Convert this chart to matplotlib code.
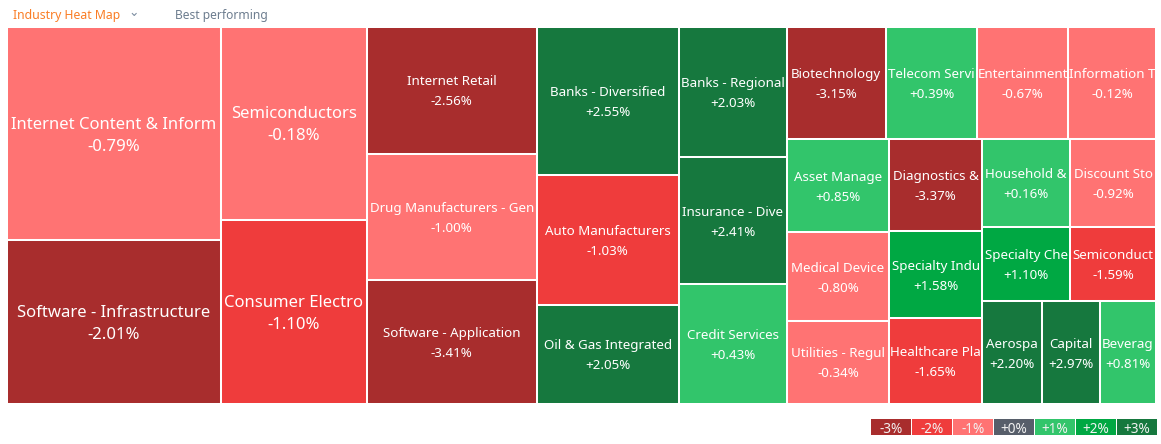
import matplotlib
matplotlib.use("Agg")
import matplotlib.pyplot as plt
from matplotlib.patches import Rectangle

plt.rcParams['font.family'] = ['Noto Sans', 'DejaVu Sans']

# ---- data ----
names = [
    "Internet Content & Inform", "Software - Infrastructure", "Semiconductors",
    "Consumer Electro", "Internet Retail", "Drug Manufacturers - Gen",
    "Software - Application", "Banks - Diversified", "Auto Manufacturers",
    "Oil & Gas Integrated", "Banks - Regional", "Insurance - Dive",
    "Credit Services", "Biotechnology", "Telecom Servi", "Entertainment",
    "Information T", "Asset Manage", "Medical Device", "Utilities - Regul",
    "Diagnostics &", "Specialty Indu", "Healthcare Pla", "Household &",
    "Discount Sto", "Specialty Che", "Semiconduct", "Aerospa", "Capital",
    "Beverag",
]
sizes = [
    45400, 34900, 28000, 26700, 21450, 21400, 20950, 20900, 18300, 14050,
    13950, 13700, 12850, 11050, 10150, 10140, 9800, 9550, 9030, 8520,
    8500, 8090, 7900, 7700, 7520, 6510, 6360, 6120, 5920, 5710,
]
changes = [
    -0.79, -2.01, -0.18, -1.10, -2.56, -1.00, -3.41, 2.55, -1.03, 2.05,
    2.03, 2.41, 0.43, -3.15, 0.39, -0.67, -0.12, 0.85, -0.80, -0.34,
    -3.37, 1.58, -1.65, 0.16, -0.92, 1.10, -1.59, 2.20, 2.97, 0.81,
]
legend_labels = ["-3%", "-2%", "-1%", "+0%", "+1%", "+2%", "+3%"]
legend_colors = ["#a82d2d", "#ef3c3c", "#ff7373", "#575e6a", "#32c56b", "#00a843", "#16783e"]


def color_for(v):
    if v < -2:
        return legend_colors[0]
    if v < -1:
        return legend_colors[1]
    if v < 0:
        return legend_colors[2]
    if v == 0:
        return legend_colors[3]
    if v < 1:
        return legend_colors[4]
    if v < 2:
        return legend_colors[5]
    return legend_colors[6]


def worst(row, side):
    s = sum(row)
    return max(side * side * max(row) / (s * s), (s * s) / (side * side * min(row)))


def squarify(values, x, y, w, h):
    total = sum(values)
    vals = [v * w * h / total for v in values]
    rects = []
    i = 0
    n = len(vals)
    while i < n:
        side = min(w, h)
        row = [vals[i]]
        j = i + 1
        while j < n and worst(row + [vals[j]], side) <= worst(row, side):
            row.append(vals[j])
            j += 1
        s = sum(row)
        if w >= h:
            cw = s / h
            yy = y
            for v in row:
                rh = v / cw
                rects.append((x, yy, cw, rh))
                yy += rh
            x += cw
            w -= cw
        else:
            rh = s / w
            xx = x
            for v in row:
                rw = v / rh
                rects.append((xx, y, rw, rh))
                xx += rw
            y += rh
            h -= rh
        i = j
    return rects


W, H = 1161, 444
fig = plt.figure(figsize=(W / 100, H / 100), dpi=100)
ax = fig.add_axes([0, 0, 1, 1])
ax.set_xlim(0, W)
ax.set_ylim(H, 0)
ax.axis('off')

rects = squarify(sizes, 7, 27, 1149, 377)
for (x, y, w, h), name, v, sz in zip(rects, names, changes, sizes):
    p = Rectangle((x, y), w, h, facecolor=color_for(v), edgecolor='white', linewidth=1.45)
    ax.add_patch(p)
    big = sz >= 25000
    fs = 12.0 if big else 9.6
    off = 11 if big else 10
    cx, cy = x + w / 2, y + h / 2
    t1 = ax.text(cx, cy - off, name, color='white', fontsize=fs, ha='center', va='center_baseline')
    t2 = ax.text(cx, cy + off, f"{v:+.2f}%", color='white', fontsize=fs, ha='center', va='center_baseline')
    t1.set_clip_path(p)
    t2.set_clip_path(p)

# header
ax.text(13, 14, "Industry Heat Map", color='#fa7d25', fontsize=8.8, ha='left', va='center_baseline')
ax.text(134, 12.5, "\u2304", color='#7b8ca0', fontsize=9, ha='center', va='center', family=['DejaVu Sans'])
ax.text(175, 14, "Best performing", color='#6d7d8f', fontsize=8.7, ha='left', va='center_baseline')

# legend
lx0, lw, lgap = 871, 40, 1
for k, (lab, col) in enumerate(zip(legend_labels, legend_colors)):
    x = lx0 + k * (lw + lgap)
    ax.add_patch(Rectangle((x, 419), lw, 16, facecolor=col, edgecolor='none'))
    ax.text(x + lw / 2, 427.5, lab, color='#f2f2f2', fontsize=9.8, ha='center', va='center_baseline')

fig.savefig("out.png", dpi=100)
